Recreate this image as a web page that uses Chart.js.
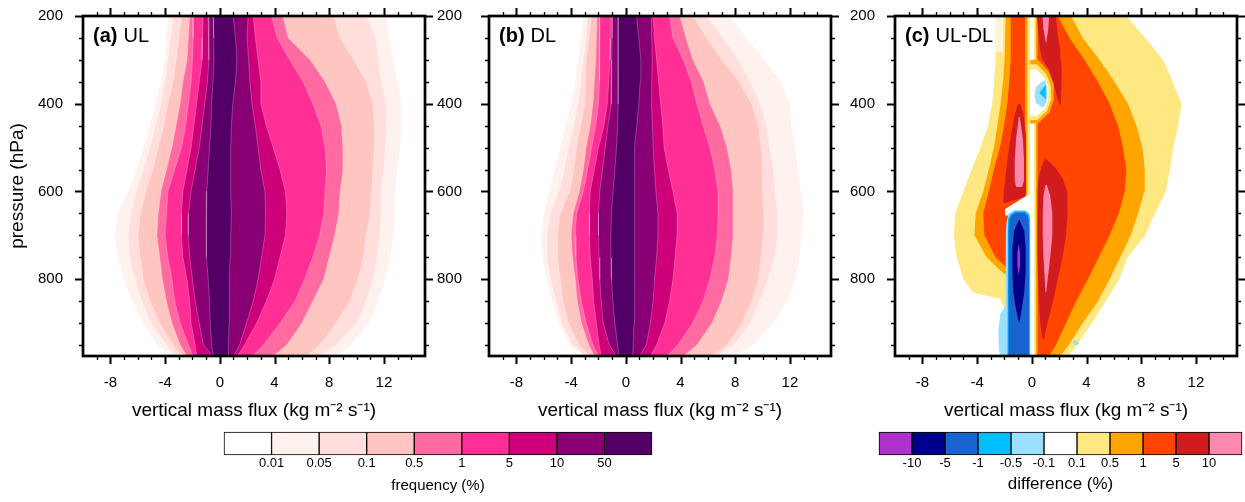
<!DOCTYPE html>
<html>
<head>
<meta charset="utf-8">
<script src="https://cdn.jsdelivr.net/npm/chart.js@4.4.1/dist/chart.umd.min.js"></script>
<style>
  body { margin: 0; width: 1245px; height: 502px; background: #fff; position: relative; overflow: hidden; }
  canvas { position: absolute; top: 0; }
</style>
</head>
<body>
<canvas id="pa" width="450" height="430" style="left:0px"></canvas>
<canvas id="pb" width="450" height="430" style="left:406px"></canvas>
<canvas id="pc" width="433" height="430" style="left:812px"></canvas>
<canvas id="cbf" width="430" height="71" style="left:223px;top:431px"></canvas>
<canvas id="cbd" width="366" height="71" style="left:878px;top:431px"></canvas>
<script>
const FONT = '"Liberation Sans", Arial, Helvetica, sans-serif';

// pressure levels (hPa) where contour edges were read
const pres = [200, 250, 300, 350, 400, 450, 500, 550, 600, 650, 700, 750, 800, 850, 900, 950, 975];

// frequency colour bar
const freqLabels = ['0.01', '0.05', '0.1', '0.5', '1', '5', '10', '50'];
const freqColors = ['#FFFFFF', '#FFF2EE', '#FFDEDB', '#FFC5C0', '#FF6BA1', '#FF2F95', '#CE0079', '#890074', '#520066'];

// difference colour bar
const diffLabels = ['-10', '-5', '-1', '-0.5', '-0.1', '0.1', '0.5', '1', '5', '10'];
const diffColors = ['#AE32CC', '#00008B', '#1A64D0', '#00BFFF', '#9BDFFE', '#FFFFFF', '#FFE882', '#FFA500', '#FF4500', '#D01C1C', '#FF88AF'];

// axis ticks
const xMajor = [-8, -4, 0, 4, 8, 12];
const xMinor = [-9, -7, -6, -5, -3, -2, -1, 1, 2, 3, 5, 6, 7, 9, 10, 11, 13, 14];
const yMajor = [200, 400, 600, 800];
const yMinor = [250, 300, 350, 450, 500, 550, 650, 700, 750, 850, 900, 950];

// (a) UL : left / right edge of each frequency level (0.01 ... 50 %) at each pressure
const ulLeft = [
  [-3.8, -3.9, -4.0, -4.3, -4.7, -5.1, -5.6, -6.1, -6.7, -7.5, -7.7, -7.5, -7.0, -6.4, -5.6, -4.6, -3.6],
  [-3.4, -3.6, -3.8, -4.0, -4.3, -4.7, -5.1, -5.6, -6.1, -6.5, -6.7, -6.6, -6.2, -5.7, -5.0, -3.9, -3.2],
  [-2.8, -3.0, -3.2, -3.4, -3.8, -4.1, -4.5, -4.9, -5.4, -5.8, -6.0, -5.8, -5.6, -5.1, -4.4, -3.4, -2.8],
  [-2.2, -2.3, -2.4, -2.7, -2.9, -3.2, -3.5, -3.9, -4.3, -4.5, -4.6, -4.4, -4.2, -3.9, -3.5, -2.9, -2.4],
  [-1.95, -1.95, -2.0, -2.1, -2.3, -2.5, -2.8, -3.3, -3.8, -3.9, -4.0, -3.8, -3.5, -3.3, -2.9, -2.3, -1.95],
  [-1.22, -1.25, -1.3, -1.5, -1.7, -1.9, -2.1, -2.4, -2.7, -2.8, -2.8, -2.7, -2.4, -2.2, -2.1, -1.8, -1.7],
  [-0.85, -0.8, -0.8, -0.9, -1.1, -1.3, -1.5, -1.8, -2.1, -2.3, -2.3, -2.2, -2.0, -1.8, -1.5, -1.2, -0.55],
  [-0.49, -0.45, -0.42, -0.5, -0.6, -0.65, -0.75, -0.85, -0.95, -1.0, -1.0, -0.95, -0.85, -0.75, -0.7, -0.6, -0.45]
];
const ulRight = [
  [12.2, 12.4, 12.7, 13.0, 13.3, 13.3, 13.2, 13.0, 12.8, 12.8, 12.7, 12.5, 12.1, 11.6, 10.9, 9.6, 8.4],
  [10.7, 11.4, 11.6, 11.8, 12.2, 12.2, 12.1, 12.0, 11.8, 11.8, 11.7, 11.5, 11.2, 10.7, 10.0, 8.5, 7.3],
  [8.3, 8.8, 9.8, 10.7, 11.2, 11.3, 11.3, 11.2, 11.1, 11.0, 10.7, 10.5, 10.1, 9.5, 8.5, 7.3, 6.3],
  [4.6, 5.0, 6.6, 7.7, 8.5, 8.9, 9.0, 9.0, 8.8, 8.7, 8.4, 8.0, 7.6, 6.8, 6.0, 4.9, 3.9],
  [3.78, 4.2, 5.1, 6.1, 6.8, 7.4, 7.7, 7.8, 7.7, 7.6, 7.3, 6.8, 6.2, 5.5, 4.4, 3.2, 2.4],
  [2.44, 2.6, 2.8, 3.0, 3.0, 3.4, 3.9, 4.4, 4.8, 4.9, 4.8, 4.4, 4.0, 3.4, 2.7, 1.8, 1.3],
  [2.07, 2.0, 2.1, 2.2, 2.35, 2.6, 2.8, 3.0, 3.3, 3.35, 3.3, 3.05, 2.8, 2.45, 1.95, 1.45, 1.0],
  [0.97, 1.15, 1.25, 1.15, 0.95, 0.85, 0.8, 0.8, 0.8, 0.85, 0.8, 0.75, 0.73, 0.7, 0.68, 0.63, 0.6]
];

// (b) DL
const dlLeft = [
  [-3.1, -3.3, -3.5, -3.7, -4.0, -4.4, -4.8, -5.2, -5.6, -6.0, -6.2, -6.1, -5.8, -5.4, -4.9, -4.1, -3.1],
  [-2.8, -2.9, -3.1, -3.3, -3.5, -3.8, -4.2, -4.5, -4.9, -5.5, -5.8, -5.8, -5.5, -5.1, -4.7, -3.9, -2.9],
  [-2.5, -2.7, -2.9, -2.95, -3.0, -3.3, -3.6, -3.8, -4.1, -4.8, -5.0, -5.0, -4.8, -4.6, -4.2, -3.4, -2.6],
  [-2.1, -2.15, -2.2, -2.3, -2.4, -2.6, -2.9, -3.1, -3.4, -3.85, -4.0, -3.9, -3.7, -3.55, -3.25, -2.7, -2.3],
  [-1.9, -1.9, -1.9, -1.95, -2.0, -2.2, -2.5, -2.8, -3.1, -3.6, -3.7, -3.65, -3.5, -3.25, -2.9, -2.4, -2.0],
  [-1.08, -1.1, -1.15, -1.25, -1.35, -1.6, -2.0, -2.3, -2.6, -2.65, -2.65, -2.6, -2.45, -2.35, -2.15, -1.95, -1.8],
  [-1.0, -1.0, -1.02, -1.05, -1.07, -1.3, -1.5, -1.7, -1.9, -2.0, -2.0, -1.95, -1.9, -1.8, -1.65, -1.2, -0.7],
  [-0.56, -0.56, -0.56, -0.55, -0.55, -0.6, -0.68, -0.8, -0.93, -1.05, -1.1, -1.08, -1.05, -0.95, -0.8, -0.6, -0.5]
];
const dlRight = [
  [7.6, 8.8, 10.2, 11.3, 12.0, 12.1, 12.4, 12.6, 12.8, 13.0, 12.9, 12.7, 12.4, 11.8, 10.8, 9.3, 7.9],
  [5.9, 7.1, 8.2, 9.1, 9.8, 10.3, 10.5, 10.8, 10.9, 11.1, 11.1, 10.9, 10.4, 9.8, 9.1, 7.9, 6.6],
  [4.9, 5.9, 7.0, 8.3, 9.2, 9.7, 9.9, 10.0, 10.0, 10.1, 10.05, 9.9, 9.7, 9.2, 8.5, 7.4, 6.2],
  [3.95, 4.4, 4.9, 5.7, 6.15, 6.9, 7.4, 7.7, 7.85, 7.85, 7.85, 7.7, 7.5, 7.0, 6.3, 5.2, 4.2],
  [3.2, 3.45, 4.2, 4.8, 5.2, 5.65, 6.15, 6.5, 6.75, 6.75, 6.7, 6.5, 6.15, 5.65, 4.9, 3.8, 3.0],
  [2.0, 2.1, 2.25, 2.4, 2.55, 2.7, 2.8, 3.1, 3.45, 3.75, 3.75, 3.6, 3.45, 3.2, 2.85, 2.25, 1.8],
  [1.88, 1.9, 1.93, 1.9, 1.88, 1.95, 2.0, 2.1, 2.2, 2.35, 2.35, 2.25, 2.1, 2.0, 1.8, 1.5, 1.0],
  [0.78, 0.95, 1.1, 1.05, 0.95, 0.8, 0.66, 0.62, 0.6, 0.63, 0.66, 0.66, 0.65, 0.62, 0.6, 0.54, 0.5]
];

// (c) UL-DL : each shape = pressures, left edges, right edges
const yelP = [200, 250, 300, 350, 400, 450, 500, 550, 600, 650, 700, 750, 800, 830, 845, 900, 950, 975];
const yelL = [-2.65, -2.65, -2.65, -2.75, -2.9, -3.2, -3.75, -4.4, -5.0, -5.6, -5.7, -5.5, -5.0, -4.3, -2.3, -1.6, -1.0, -0.5];
const yelR = [6.9, 8.3, 9.6, 10.3, 10.95, 10.7, 10.35, 10.1, 9.8, 9.0, 8.3, 7.0, 6.4, 5.8, 5.5, 4.4, 3.3, 2.7];
const paleP = [200, 282];
const paleL = [-2.66, -2.66];
const paleR = [-2.1, -2.1];
const orgP = [200, 250, 300, 350, 400, 450, 500, 550, 600, 650, 700, 750, 780, 800, 850, 900, 950, 975];
const orgL = [-1.91, -1.95, -1.99, -2.1, -2.28, -2.52, -2.77, -3.14, -3.55, -4.1, -4.2, -3.3, -2.3, -1.5, -1.0, -0.8, -0.6, -0.5];
const orgR = [2.87, 3.73, 4.95, 6.05, 7.03, 7.65, 8.09, 8.26, 8.21, 7.77, 7.23, 6.47, 6.0, 5.69, 4.83, 3.73, 2.7, 2.1];
const redP = [200, 250, 300, 350, 400, 450, 500, 550, 600, 650, 700, 750, 775, 800, 850, 900, 950, 975];
const redL = [-1.54, -1.54, -1.54, -1.65, -1.79, -2.03, -2.33, -2.77, -3.14, -3.55, -3.46, -2.65, -1.79, -1.2, -0.8, -0.6, -0.5, -0.4];
const redR = [1.89, 2.75, 3.85, 4.83, 5.69, 6.3, 6.67, 6.91, 6.79, 6.35, 5.69, 4.9, 4.5, 4.1, 3.24, 2.5, 1.76, 1.27];
const stripP = [200, 975];
const stripOrgL = [-0.5, -0.5], stripOrgR = [0.42, 0.42];
const stripYelL = [-0.32, -0.32], stripYelR = [0.29, 0.29];
const stripWhtL = [-0.12, -0.12], stripWhtR = [0.17, 0.17];
const drTopP = [200, 240, 278, 300, 323, 354, 384, 403];
const drTopL = [0.37, 0.49, 0.61, 0.78, 1.27, 1.59, 1.84, 2.06];
const drTopR = [1.76, 1.89, 2.08, 2.13, 2.18, 2.18, 2.13, 2.08];
const pkTopP = [200, 230, 262];
const pkTopL = [0.78, 0.85, 1.03];
const pkTopR = [1.27, 1.2, 1.05];
const drLftP = [400, 425, 468, 520, 560, 600, 612, 626];
const drLftL = [-1.0, -1.25, -1.5, -1.75, -1.9, -2.05, -2.08, -2.08];
const drLftR = [-0.86, -0.6, -0.44, -0.42, -0.42, -0.42, -0.45, -1.95];
const pkLftP = [430, 480, 530, 575, 590];
const pkLftL = [-0.95, -1.15, -1.25, -1.25, -1.15];
const pkLftR = [-0.88, -0.65, -0.57, -0.57, -0.7];
const drLowP = [525, 545, 570, 600, 650, 700, 750, 800, 850, 900, 930, 940];
const drLowL = [0.95, 0.7, 0.5, 0.42, 0.4, 0.4, 0.42, 0.47, 0.52, 0.62, 0.75, 0.9];
const drLowR = [1.0, 1.7, 2.25, 2.6, 2.62, 2.5, 2.25, 1.9, 1.55, 1.15, 0.95, 0.9];
const pkLowP = [585, 610, 650, 700, 750, 790, 830];
const pkLowL = [1.0, 0.85, 0.8, 0.8, 0.85, 0.93, 1.0];
const pkLowR = [1.1, 1.35, 1.5, 1.5, 1.35, 1.2, 1.05];
const capP = [605, 640, 655];
const capL = [-0.15, -1.95, -1.95];
const capR = [-0.12, -0.12, -0.12];
const bulOrgP = [300, 325, 355, 390, 420, 445];
const bulOrgL = [-0.12, -0.12, -0.12, -0.12, -0.12, -0.12];
const bulOrgR = [0.45, 1.2, 1.6, 1.62, 1.3, 0.45];
const bulYelP = [310, 332, 357, 390, 416, 437];
const bulYelL = [-0.12, -0.12, -0.12, -0.12, -0.12, -0.12];
const bulYelR = [0.38, 1.05, 1.38, 1.42, 1.12, 0.4];
const bulWhtP = [322, 340, 360, 390, 412, 428];
const bulWhtL = [-0.12, -0.12, -0.12, -0.12, -0.12, -0.12];
const bulWhtR = [0.3, 0.9, 1.2, 1.22, 0.95, 0.35];
const bulLbP = [348, 362, 380, 398, 408];
const bulLbL = [0.8, 0.3, 0.2, 0.3, 0.75];
const bulLbR = [1.0, 1.12, 1.15, 1.05, 0.85];
const bulCyP = [357, 375, 390];
const bulCyL = [1.0, 0.55, 1.0];
const bulCyR = [1.02, 1.02, 1.02];
const lbP = [642, 650, 670, 700, 800, 860, 880, 920, 960, 975];
const lbL = [-1.3, -1.7, -1.85, -1.9, -1.9, -1.95, -2.3, -2.45, -2.4, -2.3];
const lbR = [-0.5, -0.15, -0.1, -0.1, -0.1, -0.1, -0.1, -0.1, -0.1, -0.1];
const cyP = [645, 652, 662, 690, 975];
const cyL = [-1.25, -1.58, -1.74, -1.78, -1.78];
const cyR = [-0.45, -0.22, -0.15, -0.14, -0.14];
const bluP = [648, 655, 665, 690, 975];
const bluL = [-1.2, -1.5, -1.65, -1.7, -1.7];
const bluR = [-0.55, -0.3, -0.22, -0.2, -0.2];
const navP = [665, 690, 730, 780, 830, 870, 898];
const navL = [-0.95, -1.3, -1.42, -1.42, -1.35, -1.15, -0.95];
const navR = [-0.9, -0.55, -0.45, -0.45, -0.55, -0.75, -0.9];
const purP = [720, 740, 770, 790];
const purL = [-0.96, -1.05, -1.05, -0.96];
const purR = [-0.94, -0.86, -0.86, -0.94];
const spotP = [938, 946, 950];
const spotL = [3.0, 3.0, 3.2];
const spotR = [3.1, 3.5, 3.3];

Chart.defaults.font.family = FONT;
Chart.defaults.color = '#000';

// closed polygon: left edge top->bottom, then right edge bottom->top
function shape(p, l, r, color, edge) {
  const pts = p.map((v, i) => ({ x: l[i], y: v }));
  for (let i = p.length - 1; i >= 0; i--) pts.push({ x: r[i], y: p[i] });
  return {
    data: pts, showLine: true, fill: 'shape', backgroundColor: color,
    borderColor: edge || 'rgba(0,0,0,0)', borderWidth: edge ? 0.7 : 0, pointRadius: 0, tension: 0
  };
}

const framePlugin = {
  id: 'frame',
  afterDatasetsDraw(chart, args, opts) {
    const { ctx, chartArea: a, scales: { x, y } } = chart;
    ctx.save();
    ctx.strokeStyle = '#000';
    const xt = (vals, len, w) => {
      ctx.lineWidth = w;
      ctx.beginPath();
      vals.forEach(v => {
        const px = Math.round(x.getPixelForValue(v)) + 0.5;
        ctx.moveTo(px, a.top); ctx.lineTo(px, a.top - len);
        ctx.moveTo(px, a.bottom); ctx.lineTo(px, a.bottom + len);
      });
      ctx.stroke();
    };
    const yt = (vals, len, w) => {
      ctx.lineWidth = w;
      ctx.beginPath();
      vals.forEach(v => {
        const py = Math.round(y.getPixelForValue(v)) + 0.5;
        ctx.moveTo(a.left, py); ctx.lineTo(a.left - len, py);
        ctx.moveTo(a.right, py); ctx.lineTo(a.right + len, py);
      });
      ctx.stroke();
    };
    xt(xMajor, 8, 2); xt(xMinor, 4, 1.3);
    yt(yMajor, 8, 2); yt(yMinor, 4, 1.3);
    ctx.lineWidth = 2.7;
    ctx.strokeRect(a.left, a.top, a.right - a.left, a.bottom - a.top);
    // panel tag
    ctx.fillStyle = '#000';
    ctx.textBaseline = 'alphabetic';
    ctx.font = 'bold 20px ' + FONT;
    ctx.fillText(opts.tag, a.left + 10, a.top + 26);
    const w = ctx.measureText(opts.tag).width;
    ctx.font = '20px ' + FONT;
    ctx.fillText(opts.name, a.left + 10 + w + 6, a.top + 26);
    ctx.restore();
  }
};

function panel(id, shapes, tag, name, padR, labPad, yTitle) {
  // Chart.js paints dataset 0 last, so hand over the shapes innermost first
  const datasets = shapes.slice().reverse();
  new Chart(document.getElementById(id), {
    type: 'scatter',
    data: { datasets },
    options: {
      responsive: false, animation: false, devicePixelRatio: 1,
      layout: { padding: { top: 16, right: padR, left: 0, bottom: 0 } },
      plugins: { legend: { display: false }, tooltip: { enabled: false }, frame: { tag, name } },
      scales: {
        x: {
          type: 'linear', min: -10, max: 15,
          afterBuildTicks: s => { s.ticks = xMajor.map(v => ({ value: v })); },
          afterFit: s => { s.height = 74; s.paddingLeft = 0; s.paddingRight = 0; },
          grid: { display: false, drawTicks: false }, border: { display: false },
          ticks: { padding: 18, autoSkip: false, maxRotation: 0, font: { size: 15 } },
          title: { display: true, text: 'vertical mass flux (kg m\u207B\u00B2 s\u207B\u00B9)', font: { size: 19 }, padding: { top: 0, bottom: 8 } }
        },
        y: {
          type: 'linear', reverse: true, min: 200, max: 975,
          afterBuildTicks: s => { s.ticks = yMajor.map(v => ({ value: v })); },
          afterFit: s => { s.width = 83; s.paddingTop = 0; s.paddingBottom = 0; },
          grid: { display: false, drawTicks: false }, border: { display: false },
          ticks: { padding: labPad, autoSkip: false, font: { size: 15 } },
          title: { display: yTitle, text: 'pressure (hPa)', font: { size: 19 }, padding: { top: 6, bottom: 0 } }
        }
      }
    },
    plugins: [framePlugin]
  });
}

function colorbar(id, colors, labels, title, padR, titleSize) {
  new Chart(document.getElementById(id), {
    type: 'bar',
    data: {
      labels: [''],
      datasets: colors.map(c => ({ data: [1], backgroundColor: c, borderColor: '#000', borderWidth: 1, borderSkipped: false,
        barPercentage: 1, categoryPercentage: 1, clip: false }))
    },
    options: {
      indexAxis: 'y', responsive: false, animation: false, devicePixelRatio: 1,
      layout: { padding: { left: 1, right: padR, top: 1, bottom: 0 } },
      plugins: { legend: { display: false }, tooltip: { enabled: false } },
      scales: {
        x: {
          type: 'linear', stacked: true, min: 0, max: colors.length,
          afterBuildTicks: s => { s.ticks = labels.map((t, i) => ({ value: i + 1 })); },
          afterFit: s => { s.height = 47; s.paddingLeft = 0; s.paddingRight = 0; },
          grid: { display: false, drawTicks: false }, border: { display: false },
          ticks: { padding: 1, autoSkip: false, maxRotation: 0, font: { size: 13 }, callback: v => labels[v - 1] },
          title: { display: true, text: title, font: { size: titleSize }, padding: { top: 0, bottom: 7 } }
        },
        y: { stacked: true, display: false }
      }
    }
  });
}

const lineTint = 'rgba(255,255,255,0.35)';
const ulSets = ulLeft.map((l, i) => shape(pres, l, ulRight[i], freqColors[i + 1], lineTint));
const dlSets = dlLeft.map((l, i) => shape(pres, l, dlRight[i], freqColors[i + 1], lineTint));
const diffSets = [
  shape(yelP, yelL, yelR, diffColors[6]),
  shape(paleP, paleL, paleR, '#FFF5D6'),
  shape(orgP, orgL, orgR, diffColors[7]),
  shape(redP, redL, redR, diffColors[8]),
  shape(stripP, stripOrgL, stripOrgR, diffColors[7]),
  shape(stripP, stripYelL, stripYelR, diffColors[6]),
  shape(stripP, stripWhtL, stripWhtR, diffColors[5]),
  shape(drTopP, drTopL, drTopR, diffColors[9]),
  shape(pkTopP, pkTopL, pkTopR, diffColors[10]),
  shape(drLftP, drLftL, drLftR, diffColors[9]),
  shape(pkLftP, pkLftL, pkLftR, diffColors[10]),
  shape(drLowP, drLowL, drLowR, diffColors[9]),
  shape(pkLowP, pkLowL, pkLowR, diffColors[10]),
  shape(bulOrgP, bulOrgL, bulOrgR, diffColors[7]),
  shape(bulYelP, bulYelL, bulYelR, diffColors[6]),
  shape(bulWhtP, bulWhtL, bulWhtR, diffColors[5]),
  shape(bulLbP, bulLbL, bulLbR, diffColors[4]),
  shape(bulCyP, bulCyL, bulCyR, diffColors[3]),
  shape(capP, capL, capR, diffColors[5]),
  shape(lbP, lbL, lbR, diffColors[4]),
  shape(cyP, cyL, cyR, diffColors[3]),
  shape(bluP, bluL, bluR, diffColors[2]),
  shape(navP, navL, navR, diffColors[1]),
  shape(purP, purL, purR, diffColors[0]),
  shape(spotP, spotL, spotR, diffColors[4])
];

panel('pa', ulSets, '(a)', 'UL', 25, 20, true);
panel('pb', dlSets, '(b)', 'DL', 25, 27, false);
panel('pc', diffSets, '(c)', 'UL-DL', 8, 20, false);
colorbar('cbf', freqColors, freqLabels, 'frequency (%)', 1, 15);
colorbar('cbd', diffColors, diffLabels, 'difference (%)', 2, 17);
</script>
</body>
</html>
